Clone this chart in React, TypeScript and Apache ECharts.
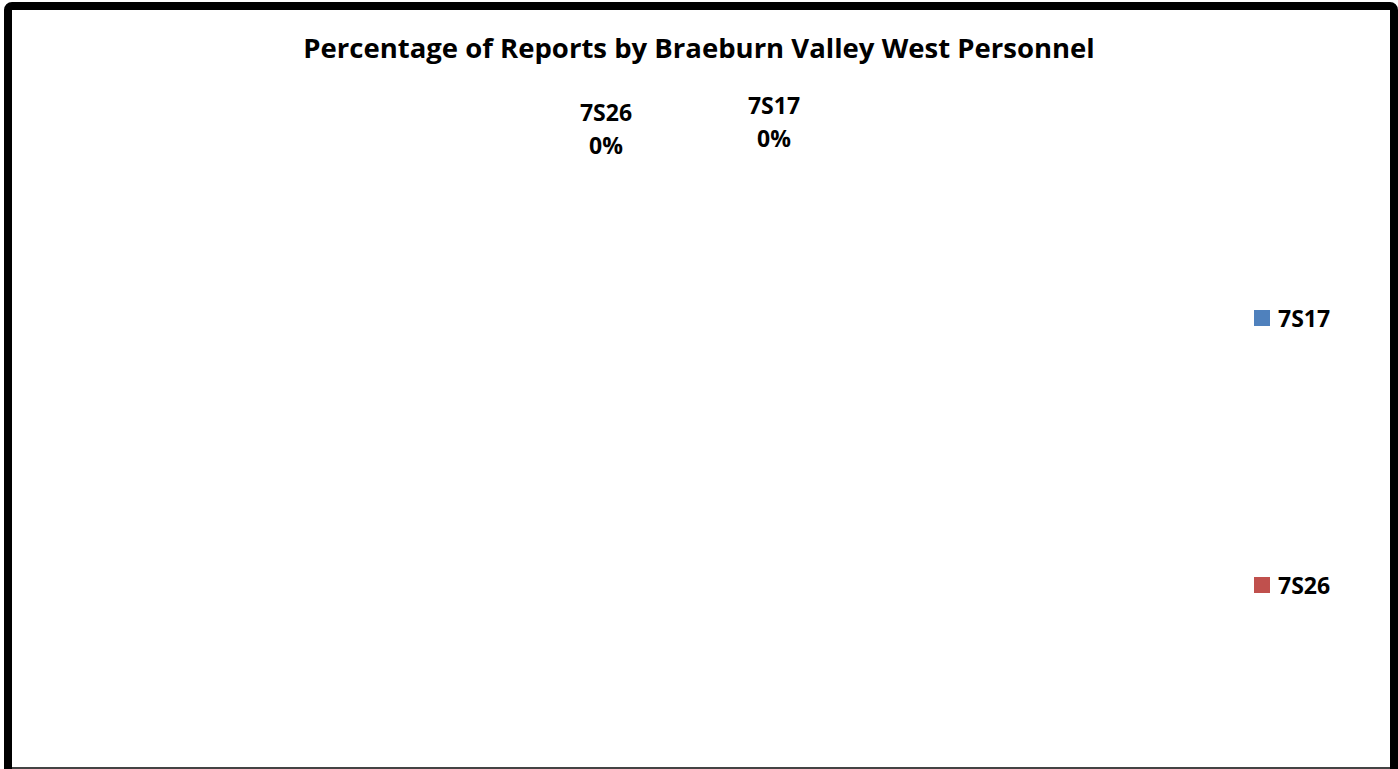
import React, { useEffect, useRef } from "react";
import * as echarts from "echarts";

const titleText = "Percentage of Reports by Braeburn Valley West Personnel";
const categories = ["7S17", "7S26"];
const values = [0, 0];
const colors = ["#4F81BD", "#C0504D"];

const FONT = "'Open Sans', 'Noto Sans', sans-serif";

export default function App() {
  const ref = useRef<HTMLDivElement>(null);

  useEffect(() => {
    document.body.style.margin = "0";
    if (!ref.current) return;
    const chart = echarts.init(ref.current, null, { renderer: "svg" });
    const total = values.reduce((a, b) => a + b, 0);
    const labelPos: Record<string, [number, number]> = {
      "7S17": [774, 121],
      "7S26": [606, 128],
    };
    chart.setOption({
      animation: false,
      backgroundColor: "#ffffff",
      title: {
        text: titleText,
        left: "center",
        top: 33,
        padding: 0,
        textStyle: {
          fontFamily: FONT,
          fontWeight: "bold",
          fontSize: 27.5,
          color: "#000",
        },
      },
      legend: {
        orient: "vertical",
        left: 1254,
        top: 306,
        padding: 0,
        itemWidth: 16,
        itemHeight: 16,
        itemGap: 243,
        icon: "rect",
        data: categories,
        textStyle: {
          fontFamily: FONT,
          fontWeight: "bold",
          fontSize: 23,
          lineHeight: 24,
          color: "#000",
          padding: [0, 0, 0, 3],
        },
      },
      series: [
        {
          type: "pie",
          center: ["49.3%", "57%"],
          radius: "65%",
          startAngle: 90,
          clockwise: true,
          stillShowZeroSum: false,
          showEmptyCircle: false,
          avoidLabelOverlap: false,
          data: categories.map((name, i) => ({
            name,
            value: values[i],
            itemStyle: { color: colors[i] },
          })),
          label: {
            show: true,
            position: "outside",
            fontFamily: FONT,
            fontWeight: "bold",
            fontSize: 23,
            lineHeight: 33,
            color: "#000",
            align: "center",
            formatter: (p: any) => {
              const pct = total === 0 ? 0 : Math.round((p.value / total) * 100);
              return `${p.name}\n${pct}%`;
            },
          },
          labelLine: { show: false },
          labelLayout: (params: any) => {
            const name = categories[params.dataIndex];
            const pos = labelPos[name];
            return {
              x: pos[0],
              y: pos[1],
              align: "center",
              verticalAlign: "middle",
            };
          },
        },
      ],
    });
    return () => chart.dispose();
  }, []);

  return (
    <div
      style={{
        position: "fixed",
        left: 0,
        top: 0,
        width: 1398,
        height: 769,
        overflow: "hidden",
        background: "#fff",
      }}
    >
      <div ref={ref} style={{ position: "absolute", left: 0, top: 0, width: 1398, height: 769 }} />
      <div
        style={{
          position: "absolute",
          left: 4,
          top: 2,
          width: 1394,
          height: 820,
          border: "8px solid #000",
          borderRadius: 8,
          boxSizing: "border-box",
          pointerEvents: "none",
        }}
      />
      <div
        style={{
          position: "absolute",
          left: 12,
          top: 767,
          width: 1378,
          height: 2,
          background: "#444",
          pointerEvents: "none",
        }}
      />
    </div>
  );
}
